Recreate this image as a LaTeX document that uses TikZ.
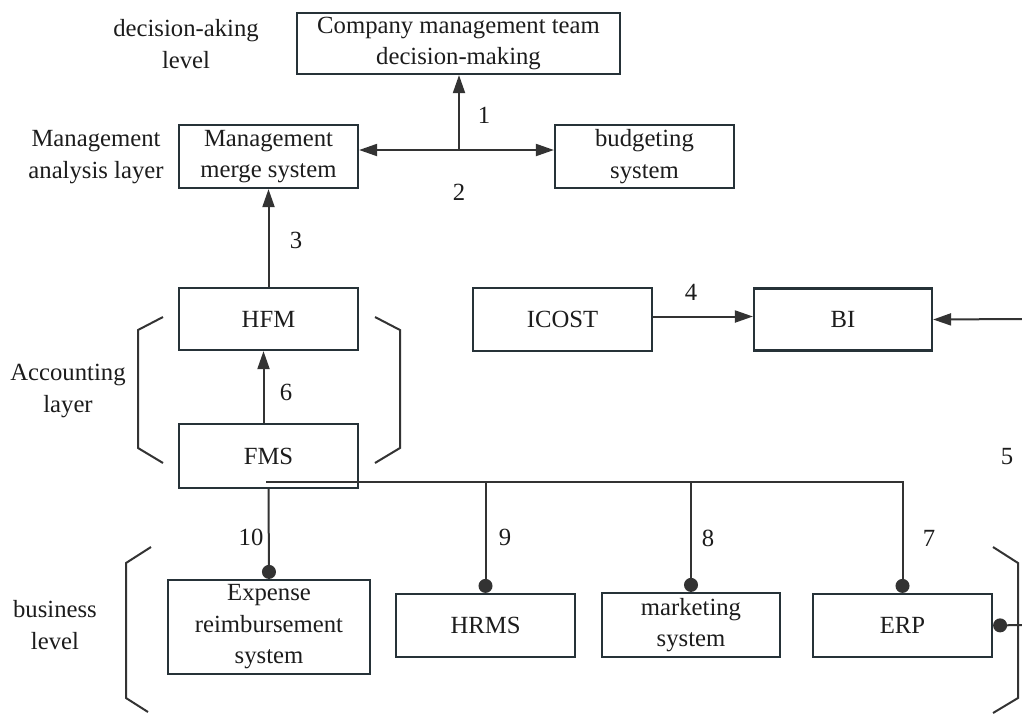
\documentclass[tikz,border=0pt]{standalone}
\usepackage{fontspec}
\setmainfont{Liberation Serif}
\usepackage{xcolor}
\usepackage{tikz}
\usetikzlibrary{arrows.meta,
                calc,
                positioning}

\definecolor{edgegray}{HTML}{333333}
\definecolor{boxline}{HTML}{263238}
\definecolor{inkgray}{HTML}{1C1C1C}

\begin{document}
\begin{tikzpicture}[x=1pt, y=-1pt,
  font=\fontsize{24.7}{31.5}\selectfont,
  every node/.style={text=inkgray},
  box/.style={draw=boxline, line width=2.2pt, align=center, inner sep=0pt,
              minimum width=179pt, minimum height=63pt},
  lbl/.style={align=center},
  arr/.style={draw=edgegray, line width=2pt, -{Triangle[length=18pt,width=12pt]}},
  dualarr/.style={draw=edgegray, line width=2pt,
                  {Triangle[length=18pt,width=12pt]}-{Triangle[length=18pt,width=12pt]}},
  dot/.style={draw=edgegray, line width=2pt, -{Circle[length=14pt]}},
  brk/.style={draw=edgegray, line width=2pt}]
\useasboundingbox (0,0) rectangle (1022,713);

\node[box, minimum width=323pt, minimum height=61pt] (company) at (458.5,43.5) {Company management team\\decision-making};
\node[box] (merge) at (268.5,156.5) {Management\\merge system};
\node[box] (budget) at (644.5,156.5) {budgeting\\system};
\node[box, minimum height=62pt] (hfm) at (268.5,319) {HFM};
\node[box, minimum height=64pt] (fms) at (268.5,456) {FMS};
\node[box] (icost) at (562.5,319.5) {ICOST};
\node[box, minimum width=178pt, minimum height=62pt] (bi) at (843,319.5) {BI};
\node[box, minimum width=202pt, minimum height=94pt] (expense) at (269,627) {Expense\\reimbursement\\system};
\node[box] (hrms) at (485.5,625.5) {HRMS};
\node[box, minimum width=178pt, minimum height=64pt] (mkt) at (691,625) {marketing\\system};
\node[box] (erp) at (902.5,625.5) {ERP};

\node[lbl] (declvl) at (186,44) {decision-aking\\level};
\node[lbl] (mgmtlvl) at (96,157) {Management\\analysis layer};
\node[lbl] (acclvl) at (68,391) {Accounting\\layer};
\node[lbl] (buslvl) at (55,625) {business\\level};

\node (n1) at (484,115) {1};
\node (n2) at (459,192) {2};
\node (n3) at (296,240) {3};
\node (n4) at (691,292) {4};
\node (n5) at (1007,457) {5};
\node (n6) at (286,392) {6};
\node (n7) at (929,538) {7};
\node (n8) at (708,538) {8};
\node (n9) at (505,537) {9};
\node (n10) at (251,537) {10};

\coordinate (hub) at (459,150);
\coordinate (bi-in) at (1022,319);
\coordinate (bus) at (266,482);
\coordinate (erp-out) at (1022,625);

\draw[dualarr] (merge.east |- hub) -- (budget.west |- hub);
\draw[arr] (hub) -- (hub |- company.south);
\draw[arr] (hfm.north) -- (merge.south);
\draw[arr] ([xshift=-5pt]fms.north) -- ([xshift=-5pt]hfm.south);
\draw[arr] ([yshift=3pt]icost.east) -- ([yshift=3pt]bi.west);
\draw[arr] (bi-in) -- (bi.east);

\draw[dot] (fms.south) -- (expense.north);
\draw[dot] (bus) -| (erp.north);
\draw[dot] (bus -| hrms.north) -- (hrms.north);
\draw[dot] (bus -| mkt.north) -- (mkt.north);
\draw[dot] (erp-out) -- (erp.east);

\draw[brk] (163,317) -- (138,330) -- (138,448) -- (163,463);
\draw[brk] (375,317) -- (400,330) -- (400,448) -- (375,463);
\draw[brk] (151,547) -- (126,563) -- (126,698) -- (148,712);
\draw[brk] (993,547) -- (1018,563) -- (1018,698) -- (993,713);
\end{tikzpicture}
\end{document}
